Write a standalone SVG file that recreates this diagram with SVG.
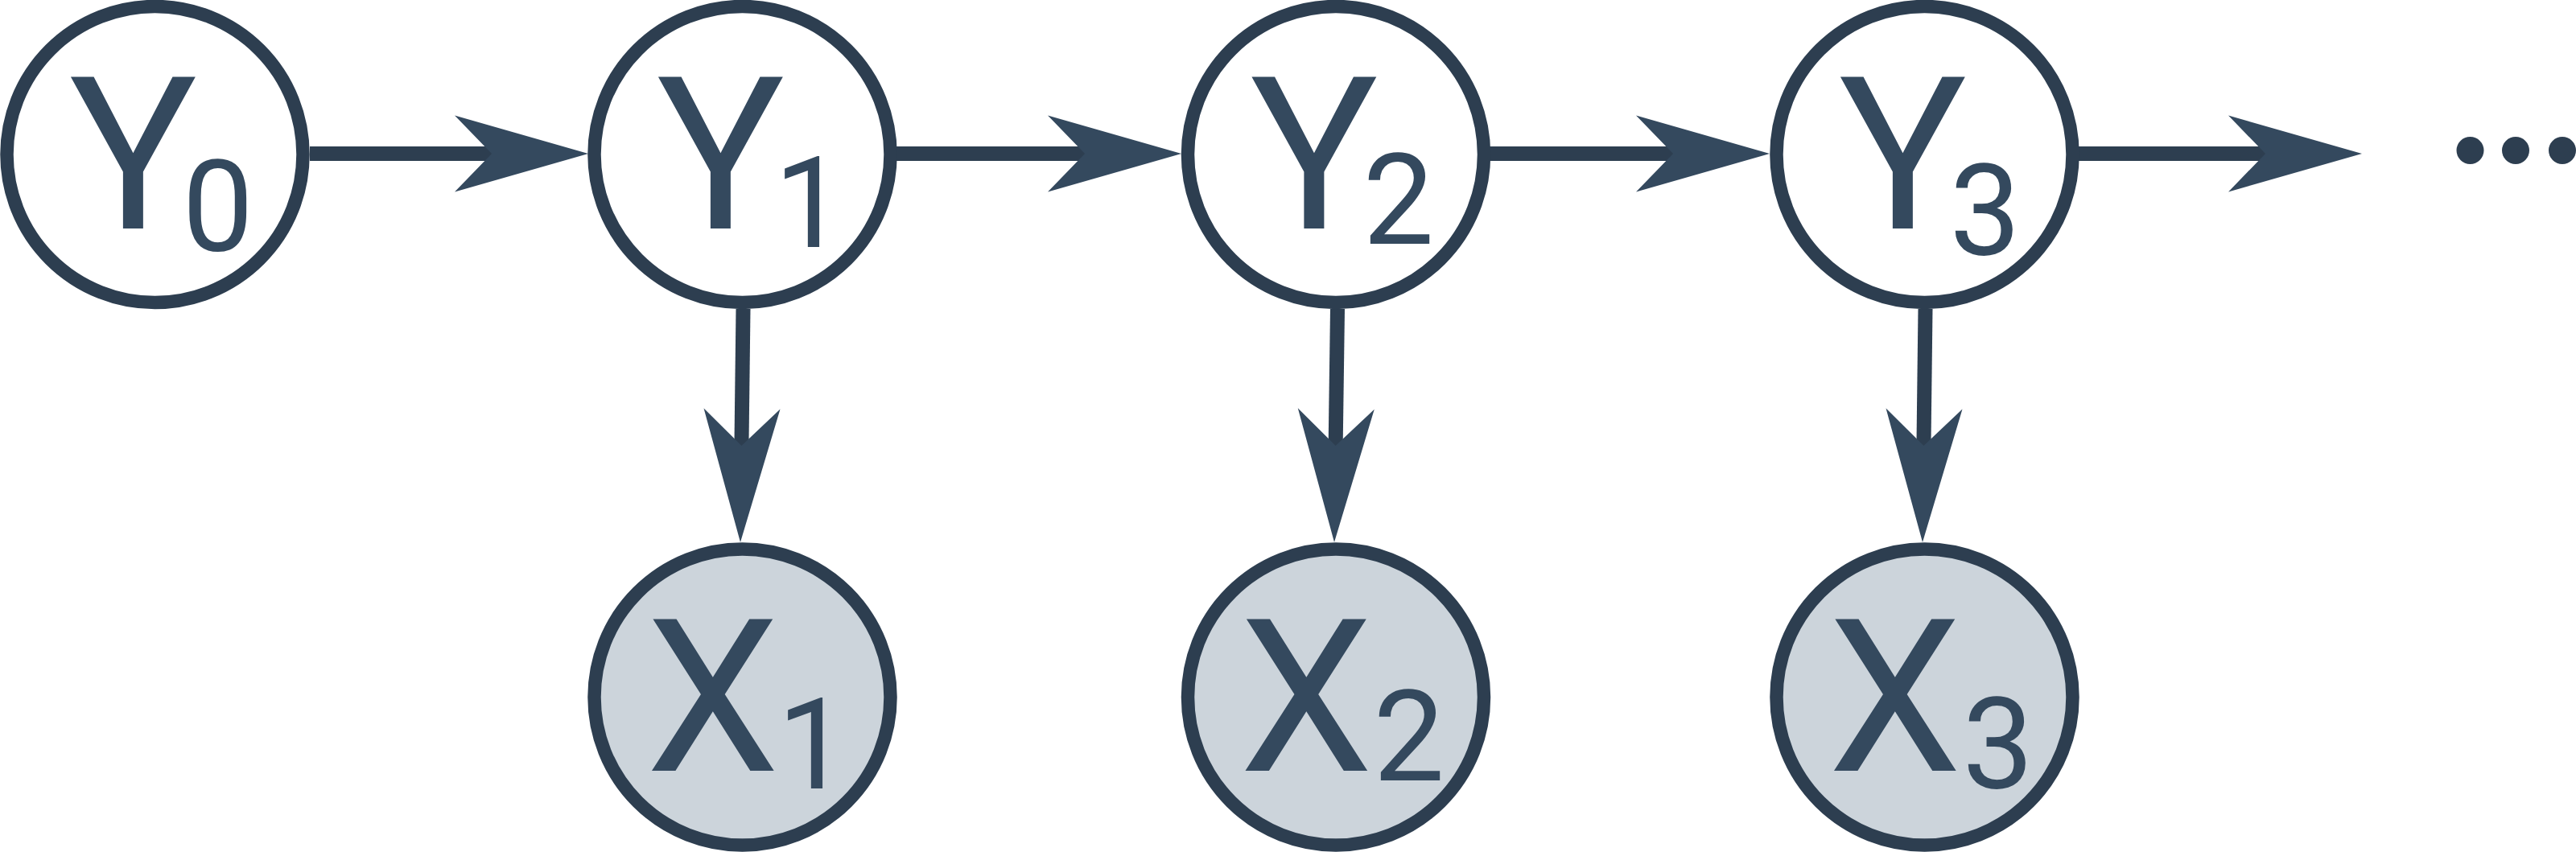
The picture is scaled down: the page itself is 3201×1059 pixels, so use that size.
<svg xmlns="http://www.w3.org/2000/svg" width="3201" height="1059" viewBox="0 0 3201 1059">
<style>
.node{stroke:#2d3e50;stroke-width:16.5}
.latent{fill:#ffffff}
.obs{fill:#ccd4db}
.lbl{font-family:Roboto,"Liberation Sans",sans-serif;fill:#34495e;font-size:265px}
.sub{font-size:157.5px}
.edge{fill:none;stroke:#2d3e50;stroke-width:18;stroke-linecap:butt}
</style>
<defs>
<marker id="arrow" markerUnits="userSpaceOnUse" viewBox="-50 -60 200 120" markerWidth="200" markerHeight="120" refX="0" refY="0" orient="auto" overflow="visible">
<path d="M0,0 L-46,-47.5 L120,0 L-46,47.5 Z" fill="#34495e"/>
</marker>
</defs>
<rect width="3201" height="1059" fill="#ffffff"/>
<g id="connectors">
<path class="edge" d="M385,191 L611,191" marker-end="url(#arrow)"/>
<path class="edge" d="M1114,191 L1348,191" marker-end="url(#arrow)"/>
<path class="edge" d="M1851,191 L2079,191" marker-end="url(#arrow)"/>
<path class="edge" d="M2583,191 L2815,191" marker-end="url(#arrow)"/>
<path class="edge" d="M923.5,384 L921.45,554" marker-end="url(#arrow)"/>
<path class="edge" d="M1662,384 L1659.66,554" marker-end="url(#arrow)"/>
<path class="edge" d="M2392.5,384 L2390.45,554" marker-end="url(#arrow)"/>
</g>
<g id="Y0">
<circle class="node latent" cx="192.5" cy="192" r="184"/>
<text class="lbl" x="86" y="284">Y<tspan class="sub" x="226.5" y="311">0</tspan></text>
</g>
<g id="Y1">
<circle class="node latent" cx="922.5" cy="192" r="184"/>
<text class="lbl" x="816" y="284">Y<tspan class="sub" x="962" y="307">1</tspan></text>
</g>
<g id="Y2">
<circle class="node latent" cx="1660" cy="192" r="184"/>
<text class="lbl" x="1553.5" y="284">Y<tspan class="sub" x="1693.5" y="303">2</tspan></text>
</g>
<g id="Y3">
<circle class="node latent" cx="2391.5" cy="192" r="184"/>
<text class="lbl" x="2285" y="284">Y<tspan class="sub" x="2422.5" y="316">3</tspan></text>
</g>
<g id="X1">
<circle class="node obs" cx="922.5" cy="866.5" r="184"/>
<text class="lbl" x="802.5" y="958">X<tspan class="sub" x="966" y="980">1</tspan></text>
</g>
<g id="X2">
<circle class="node obs" cx="1660" cy="866.5" r="184"/>
<text class="lbl" x="1540" y="958">X<tspan class="sub" x="1706.5" y="970">2</tspan></text>
</g>
<g id="X3">
<circle class="node obs" cx="2391.5" cy="866.5" r="184"/>
<text class="lbl" x="2271.5" y="958">X<tspan class="sub" x="2438.5" y="979">3</tspan></text>
</g>
<g id="ellipsis" fill="#2d3e50">
<circle cx="3069.5" cy="187" r="17"/>
<circle cx="3126" cy="187" r="17"/>
<circle cx="3184" cy="187" r="17"/>
</g>
</svg>
